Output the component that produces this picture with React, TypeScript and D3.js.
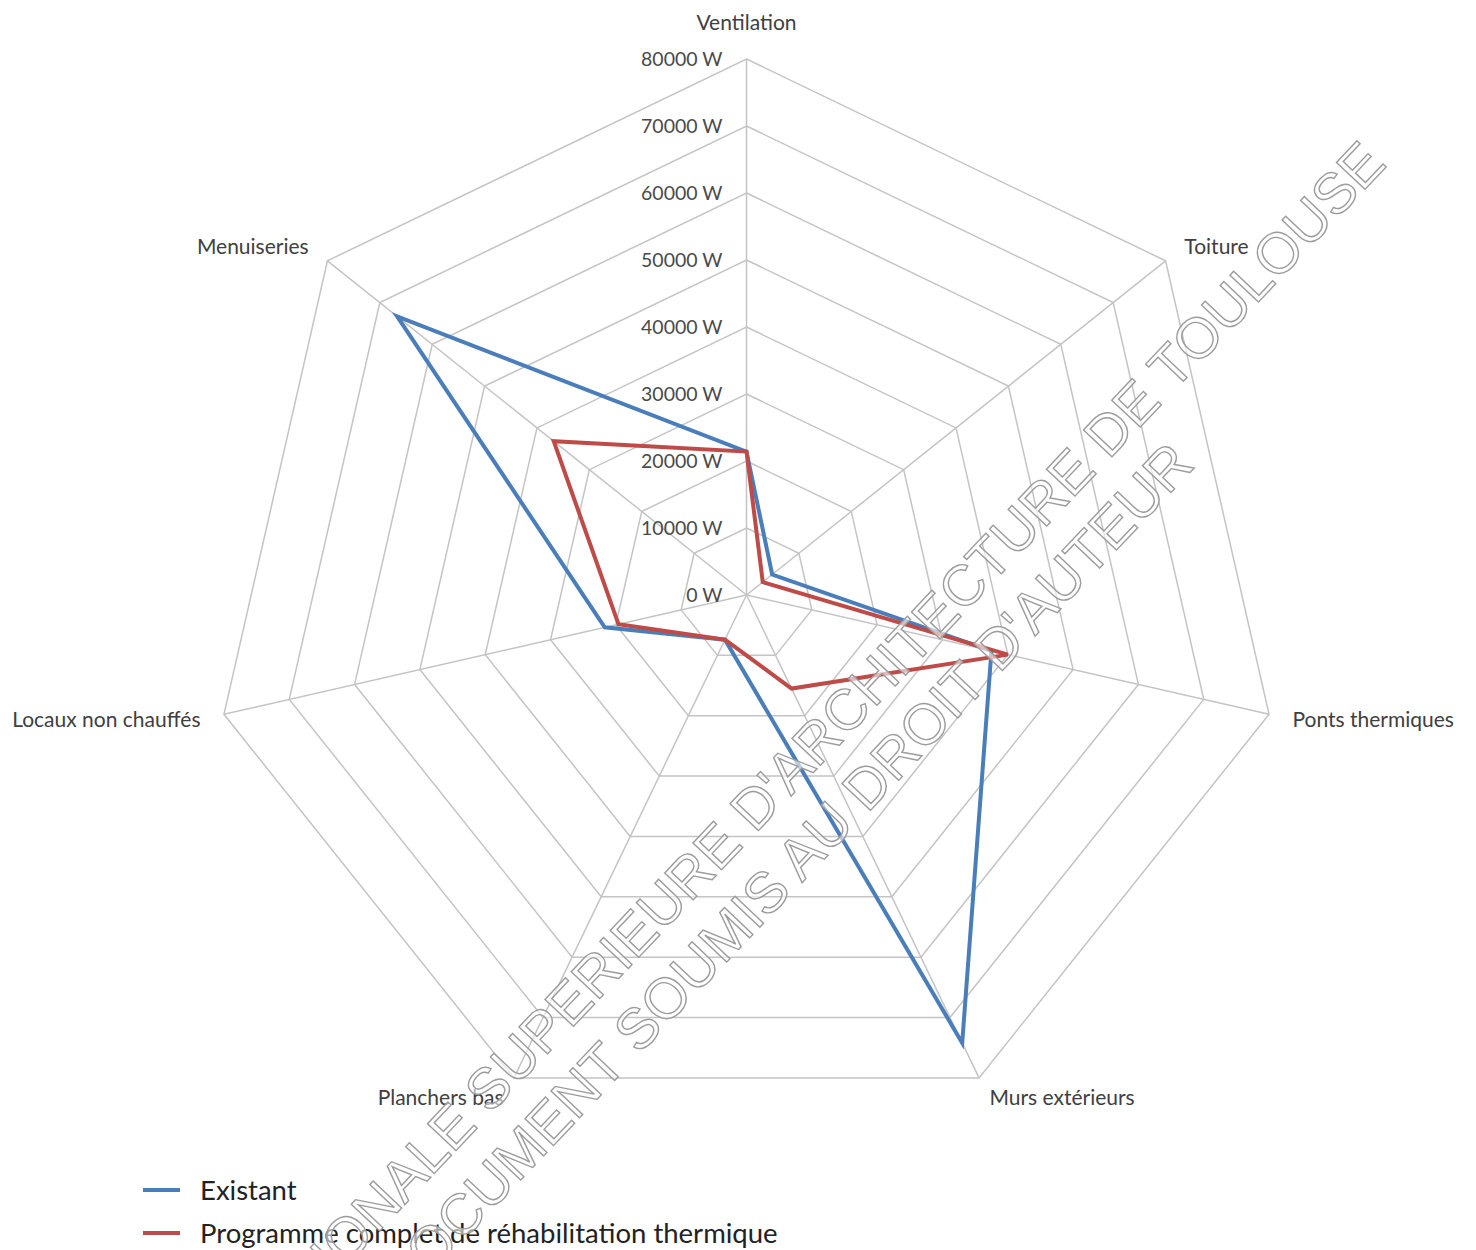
import React from "react";
import * as d3 from "d3";

const categories = [
  "Ventilation",
  "Toiture",
  "Ponts thermiques",
  "Murs extérieurs",
  "Planchers bas",
  "Locaux non chauffés",
  "Menuiseries",
];
const existant = [21400, 4900, 37500, 74200, 7400, 21700, 66700];
const programme = [21400, 3100, 40000, 15500, 7400, 19600, 36800];
const ticks = [0, 10000, 20000, 30000, 40000, 50000, 60000, 70000, 80000];
const seriesNames = ["Existant", "Programme complet de réhabilitation thermique"];
const watermark = [
  "ECOLE NATIONALE SUPERIEURE D'ARCHITECTURE DE TOULOUSE",
  "DOCUMENT SOUMIS AU DROIT D'AUTEUR",
];

const W = 1476;
const H = 1250;
const cx = 746.5;
const cy = 595;
const R = 536;
const FONT = "Lato, 'Open Sans', sans-serif";

export default function App() {
  const r = d3.scaleLinear().domain([0, 80000]).range([0, R]);
  const n = categories.length;
  const angle = d3
    .scaleLinear()
    .domain([0, n])
    .range([-Math.PI / 2, -Math.PI / 2 + 2 * Math.PI]);
  const pt = (i: number, v: number): [number, number] => [
    cx + r(v) * Math.cos(angle(i)),
    cy + r(v) * Math.sin(angle(i)),
  ];
  const line = d3.line<[number, number]>().curve(d3.curveLinearClosed);
  const ring = (v: number) => line(categories.map((_, i) => pt(i, v))) || "";
  const seriesPath = (vals: number[]) => line(vals.map((v, i) => pt(i, v))) || "";

  const colors = ["#4A7EBB", "#BE4B48"];
  const data = [existant, programme];

  const wmAngle = -46.6;

  return (
    <svg
      width={W}
      height={H}
      style={{ position: "absolute", left: 0, top: 0, background: "#fff" }}
    >
      <rect x={0} y={0} width={W} height={H} fill="#fff" />
      {/* grid rings */}
      {ticks.slice(1).map((t) => (
        <path key={t} d={ring(t)} fill="none" stroke="#c4c4c4" strokeWidth={1.5} />
      ))}
      {/* spokes */}
      {categories.map((c, i) => {
        const [x, y] = pt(i, 80000);
        return <line key={c} x1={cx} y1={cy} x2={x} y2={y} stroke="#c4c4c4" strokeWidth={1.5} />;
      })}
      {/* tick labels */}
      {ticks.map((t) => (
        <text
          key={t}
          x={cx - 24}
          y={cy - r(t)}
          dy="0.35em"
          textAnchor="end"
          fontFamily={FONT}
          fontSize={19.5}
          fill="#4a4a4a"
        >
          {`${t} W`}
        </text>
      ))}
      {/* axis labels */}
      {categories.map((c, i) => {
        const a = angle(i);
        const cos = Math.cos(a);
        const sin = Math.sin(a);
        const x = cx + (R + 24) * cos;
        const y = cy + (R + 22) * sin;
        let anchor: "start" | "middle" | "end" = "middle";
        if (cos > 0.1) anchor = "start";
        else if (cos < -0.1) anchor = "end";
        const yy = Math.abs(cos) < 0.1 ? y - 14 : y;
        return (
          <text
            key={c}
            x={x}
            y={yy}
            dy="0.35em"
            textAnchor={anchor}
            fontFamily={FONT}
            fontSize={21}
            fill="#404040"
          >
            {c}
          </text>
        );
      })}
      {/* series */}
      {data.map((vals, k) => (
        <path
          key={k}
          d={seriesPath(vals)}
          fill="none"
          stroke={colors[k]}
          strokeWidth={4}
          strokeLinejoin="miter"
        />
      ))}
      {/* legend */}
      {seriesNames.map((s, k) => (
        <g key={s} transform={`translate(143, ${1190 + k * 43})`}>
          <line x1={0} y1={0} x2={37} y2={0} stroke={colors[k]} strokeWidth={4} />
          <text x={57} y={0} dy="0.35em" fontFamily={FONT} fontSize={27.5} fill="#222">
            {s}
          </text>
        </g>
      ))}
      {/* watermark */}
      <g
        fontFamily="'Liberation Sans', Arial, sans-serif"
        fontSize={57}
        fill="#fff"
        fillOpacity={0.6}
        stroke="#9c9c9c"
        strokeWidth={1.4}
      >
        <text transform={`translate(1388, 165) rotate(${wmAngle})`} textAnchor="end">
          {watermark[0]}
        </text>
        <text transform={`translate(1196, 466) rotate(${wmAngle})`} textAnchor="end">
          {watermark[1]}
        </text>
      </g>
    </svg>
  );
}
